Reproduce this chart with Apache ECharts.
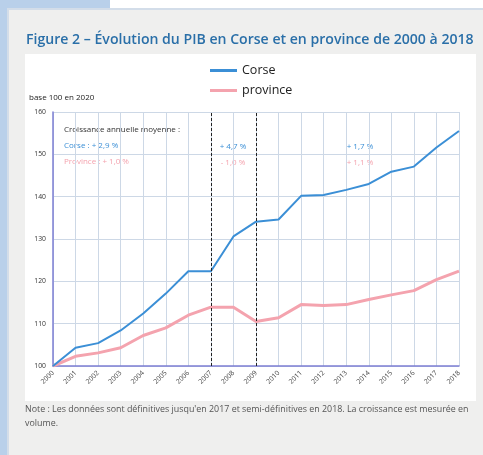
<!DOCTYPE html>
<html>
<head>
<meta charset="utf-8">
<script src="https://cdn.jsdelivr.net/npm/echarts@6/dist/echarts.min.js"></script>
<style>
  html, body { margin: 0; padding: 0; background: #efefee; }
  #chart { width: 483px; height: 455px; }
</style>
</head>
<body>
<div id="chart"></div>
<script>
// années
const years = ['2000', '2001', '2002', '2003', '2004', '2005', '2006', '2007', '2008', '2009',
  '2010', '2011', '2012', '2013', '2014', '2015', '2016', '2017', '2018'];

// PIB base 100
const corse = [100, 104.3, 105.4, 108.4, 112.4, 117.1, 122.4, 122.4, 130.6, 134.1,
  134.6, 140.2, 140.4, 141.6, 143.0, 145.9, 147.1, 151.6, 155.5];
const province = [100, 102.3, 103.1, 104.3, 107.2, 109.0, 112.0, 113.9, 113.9, 110.5,
  111.4, 114.5, 114.3, 114.5, 115.7, 116.8, 117.8, 120.4, 122.4];

// ruptures de période
const breakYears = ['2007', '2009'];

const font = '"Open Sans", sans-serif';
const blue = '#3b8fd6';
const pink = '#f4a3ae';

var chart = echarts.init(document.getElementById('chart'));

const option = {
  backgroundColor: '#efefee',
  animation: false,
  textStyle: { fontFamily: font },
  title: {
    text: 'Figure 2 – Évolution du PIB en Corse et en province de 2000 à 2018',
    left: 21,
    top: 28,
    textStyle: { fontSize: 14.1, fontWeight: 600, color: '#2a6fa8', fontFamily: font }
  },
  legend: {
    orient: 'vertical',
    left: 205,
    top: 59,
    itemWidth: 27,
    itemHeight: 3,
    itemGap: 7,
    icon: 'rect',
    textStyle: { fontSize: 12.5, color: '#222', fontFamily: font },
    data: ['Corse', 'province']
  },
  grid: { left: 53, right: 24, top: 112, bottom: 89 },
  xAxis: {
    type: 'category',
    data: years,
    boundaryGap: false,
    axisLine: { lineStyle: { color: '#7d7fd3', width: 1.5 } },
    axisTick: { show: false },
    axisLabel: { rotate: 45, fontSize: 6.8, color: '#444', margin: 6, interval: 0 },
    splitLine: { show: true, lineStyle: { color: '#cdd8e6', width: 1 } }
  },
  yAxis: {
    type: 'value',
    min: 100,
    max: 160,
    interval: 10,
    axisLine: { show: true, lineStyle: { color: '#7d7fd3', width: 1.5 } },
    axisTick: { show: false },
    axisLabel: { fontSize: 6.8, color: '#333', margin: 7 },
    splitLine: { lineStyle: { color: '#cdd8e6', width: 1 } }
  },
  series: [
    {
      name: 'Corse',
      type: 'line',
      data: corse,
      symbol: 'none',
      z: 3,
      itemStyle: { color: blue },
      lineStyle: { color: blue, width: 2 }
    },
    {
      name: 'province',
      type: 'line',
      data: province,
      symbol: 'none',
      z: 2,
      itemStyle: { color: pink },
      lineStyle: { color: pink, width: 3 },
      markLine: {
        silent: true,
        symbol: 'none',
        label: { show: false },
        lineStyle: { color: '#222', type: [3, 2], width: 1 },
        data: breakYears.map(y => ({ xAxis: y }))
      }
    }
  ],
  graphic: [
    // fond bleu et bord du cadre
    { type: 'rect', z: -10, shape: { x: 0, y: 0, width: 110, height: 8 }, style: { fill: '#b9d0ea' } },
    { type: 'rect', z: -10, shape: { x: 110, y: 0, width: 373, height: 8 }, style: { fill: '#ffffff' } },
    { type: 'rect', z: -10, shape: { x: 0, y: 0, width: 7, height: 455 }, style: { fill: '#b9d0ea' } },
    { type: 'rect', z: -10, shape: { x: 7, y: 8, width: 476, height: 2 }, style: { fill: '#d3dde9' } },
    { type: 'rect', z: -10, shape: { x: 7, y: 8, width: 2, height: 447 }, style: { fill: '#d3dde9' } },
    { type: 'rect', z: -9, shape: { x: 25, y: 54, width: 451, height: 347 }, style: { fill: '#ffffff' } },
    {
      type: 'text', left: 29, top: 94,
      style: { text: 'base 100 en 2020', fontSize: 8, fill: '#222', fontFamily: font }
    },
    {
      type: 'text', left: 64, top: 126,
      style: { text: 'Croissance annuelle moyenne :', fontSize: 8, fill: '#333', fontFamily: font }
    },
    {
      type: 'text', left: 64, top: 142,
      style: { text: 'Corse : + 2,9 %', fontSize: 8, fill: blue, fontFamily: font }
    },
    {
      type: 'text', left: 64, top: 158,
      style: { text: 'Province : + 1,0 %', fontSize: 8, fill: pink, fontFamily: font }
    },
    {
      type: 'text', x: 233, y: 147,
      style: { text: '+ 4,7 %', fontSize: 8, fill: blue, align: 'center', verticalAlign: 'middle', fontFamily: font }
    },
    {
      type: 'text', x: 233, y: 163,
      style: { text: '- 1,0 %', fontSize: 8, fill: pink, align: 'center', verticalAlign: 'middle', fontFamily: font }
    },
    {
      type: 'text', x: 360, y: 147,
      style: { text: '+ 1,7 %', fontSize: 8, fill: blue, align: 'center', verticalAlign: 'middle', fontFamily: font }
    },
    {
      type: 'text', x: 360, y: 163,
      style: { text: '+ 1,1 %', fontSize: 8, fill: pink, align: 'center', verticalAlign: 'middle', fontFamily: font }
    },
    {
      type: 'text', left: 25, top: 402,
      style: {
        text: 'Note : Les données sont définitives jusqu\'en 2017 et semi-définitives en 2018. La croissance est mesurée en\nvolume.',
        fontSize: 8.9, lineHeight: 14, fill: '#555', fontFamily: font
      }
    }
  ]
};

chart.setOption(option);
</script>
</body>
</html>
